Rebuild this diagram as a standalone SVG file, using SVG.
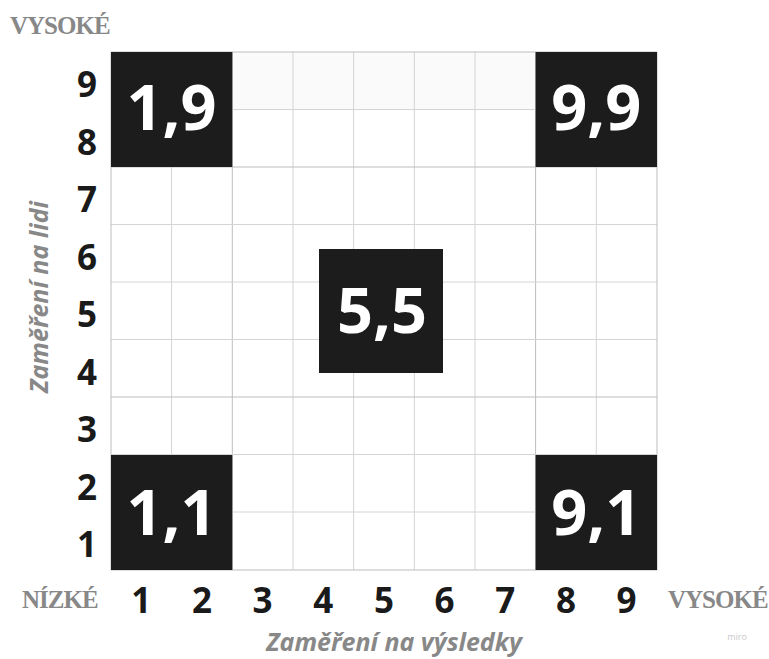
<svg xmlns="http://www.w3.org/2000/svg" width="769" height="659" viewBox="0 0 769 659">
<style>
.grid line{stroke:#d4d4d4;stroke-width:1}
.grid line.major{stroke:#bdbdbd}
.box rect{fill:#1c1c1c}
.box text{fill:#fff;font-family:"Open Sans",sans-serif;font-weight:bold;font-size:63px;text-anchor:middle}
.num{fill:#1a1a1a;font-family:"Open Sans",sans-serif;font-weight:bold;font-size:35px;text-anchor:middle}
.lvl{fill:#888;font-family:"Liberation Serif",serif;font-weight:bold;font-size:25px;letter-spacing:-1px}
.axis{fill:#888;font-family:"Open Sans",sans-serif;font-weight:bold;font-style:italic;font-size:25px;text-anchor:middle}
</style>
<rect width="769" height="659" fill="#fff"/>
<g id="grid" class="grid">
<rect x="232" y="52" width="303" height="57.5" fill="#fafafa"/>
<line x1="171.6" y1="52" x2="171.6" y2="570"/>
<line x1="232.3" y1="52" x2="232.3" y2="570" class="major"/>
<line x1="293" y1="52" x2="293" y2="570"/>
<line x1="353.6" y1="52" x2="353.6" y2="570"/>
<line x1="414.3" y1="52" x2="414.3" y2="570"/>
<line x1="475" y1="52" x2="475" y2="570"/>
<line x1="535.6" y1="52" x2="535.6" y2="570" class="major"/>
<line x1="596.3" y1="52" x2="596.3" y2="570"/>
<line x1="111" y1="109.5" x2="657" y2="109.5"/>
<line x1="111" y1="167" x2="657" y2="167" class="major"/>
<line x1="111" y1="224.5" x2="657" y2="224.5"/>
<line x1="111" y1="282" x2="657" y2="282"/>
<line x1="111" y1="339.5" x2="657" y2="339.5"/>
<line x1="111" y1="397" x2="657" y2="397" class="major"/>
<line x1="111" y1="454.5" x2="657" y2="454.5"/>
<line x1="111" y1="512" x2="657" y2="512"/>
<rect x="111" y="52" width="546" height="518" fill="none" stroke="#bdbdbd" stroke-width="1"/>
</g>
<g id="box-1-9" class="box"><rect x="111" y="52" width="121.3" height="115"/><text x="171.6" y="130">1,9</text></g>
<g id="box-9-9" class="box"><rect x="535.6" y="52" width="121.4" height="115"/><text x="596.3" y="130">9,9</text></g>
<g id="box-5-5" class="box"><rect x="319" y="249" width="124" height="124"/><text x="382" y="333">5,5</text></g>
<g id="box-1-1" class="box"><rect x="111" y="455" width="121.3" height="115"/><text x="171.6" y="535">1,1</text></g>
<g id="box-9-1" class="box"><rect x="535.6" y="455" width="121.4" height="115"/><text x="596.3" y="535">9,1</text></g>
<g id="y-numbers">
<text class="num" x="87" y="97">9</text>
<text class="num" x="87" y="154.5">8</text>
<text class="num" x="87" y="212">7</text>
<text class="num" x="87" y="269.5">6</text>
<text class="num" x="87" y="327">5</text>
<text class="num" x="87" y="384.5">4</text>
<text class="num" x="87" y="442">3</text>
<text class="num" x="87" y="499.5">2</text>
<text class="num" x="87" y="557">1</text>
</g>
<g id="x-numbers">
<text class="num" x="141.3" y="613">1</text>
<text class="num" x="202" y="613">2</text>
<text class="num" x="262.6" y="613">3</text>
<text class="num" x="323.3" y="613">4</text>
<text class="num" x="384" y="613">5</text>
<text class="num" x="444.6" y="613">6</text>
<text class="num" x="505.3" y="613">7</text>
<text class="num" x="566" y="613">8</text>
<text class="num" x="626.6" y="613">9</text>
</g>
<g id="levels">
<text class="lvl" x="10" y="34">VYSOKÉ</text>
<text class="lvl" x="22" y="608">NÍZKÉ</text>
<text class="lvl" x="668" y="608">VYSOKÉ</text>
</g>
<g id="axis-labels">
<text class="axis" x="394" y="651">Zaměření na výsledky</text>
<text class="axis" transform="translate(48 297) rotate(-90)" font-size="23.5">Zaměření na lidi</text>
</g>
<text x="737" y="640" fill="#c8c8c8" font-family="Open Sans, sans-serif" font-size="9" text-anchor="middle">miro</text>
</svg>
